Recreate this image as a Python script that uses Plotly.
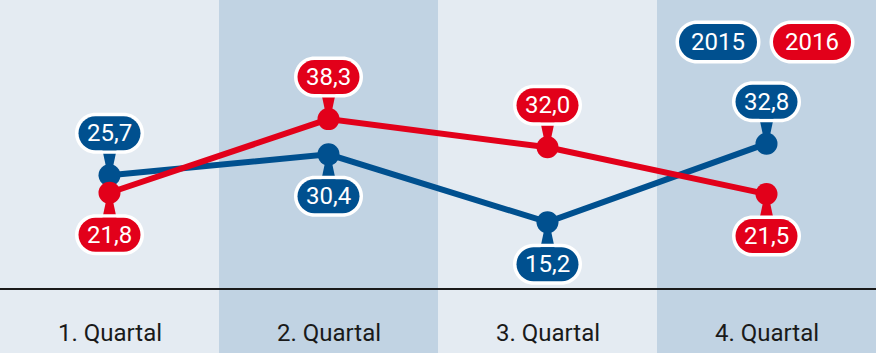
import plotly.graph_objects as go

categories = ["1. Quartal", "2. Quartal", "3. Quartal", "4. Quartal"]
series_names = ["2015", "2016"]
values_2015 = [25.7, 30.4, 15.2, 32.8]
values_2016 = [21.8, 38.3, 32.0, 21.5]
# +1 = label above the point, -1 = label below
label_side_2015 = [1, -1, -1, 1]
label_side_2016 = [-1, 1, 1, -1]

BLUE = "#00508f"
RED = "#e2001a"
LIGHT = "#e4ebf2"
DARK = "#c1d3e3"
INK = "#1a1a1a"
FONT = "Roboto"

W, H = 876, 353
BASE_PX = 290
Y_MAX = 65


def pill_path(cx, cy, w, h):
    r = h / 2
    k = 0.5523 * r
    x0, x1 = cx - w / 2, cx + w / 2
    y0, y1 = cy - h / 2, cy + h / 2
    return (f"M {x0 + r},{y0} L {x1 - r},{y0} "
            f"C {x1 - r + k},{y0} {x1},{cy - k} {x1},{cy} "
            f"C {x1},{cy + k} {x1 - r + k},{y1} {x1 - r},{y1} "
            f"L {x0 + r},{y1} "
            f"C {x0 + r - k},{y1} {x0},{cy + k} {x0},{cy} "
            f"C {x0},{cy - k} {x0 + r - k},{y0} {x0 + r},{y0} Z")


def fmt(v):
    return f"{v:.1f}".replace(".", ",")


fig = go.Figure()

shapes = []
annotations = []

# background bands
for i, _ in enumerate(categories):
    shapes.append(dict(type="rect", xref="x", yref="paper", x0=i - 0.5, x1=i + 0.5,
                       y0=0, y1=1, fillcolor=LIGHT if i % 2 == 0 else DARK,
                       line_width=0, layer="below"))

# baseline
shapes.append(dict(type="line", xref="paper", yref="y", x0=0, x1=1, y0=0, y1=0,
                   line=dict(color=INK, width=4), layer="below"))

OFF = 42
PW, PH = 62, 34
BORDER = 3.5

for vals, sides, color in [(values_2015, label_side_2015, BLUE),
                           (values_2016, label_side_2016, RED)]:
    fig.add_trace(go.Scatter(x=list(range(len(categories))), y=vals, mode="lines+markers",
                             line=dict(color=color, width=6),
                             marker=dict(color=color, size=22), hoverinfo="skip",
                             showlegend=False))
    for i, (v, s) in enumerate(zip(vals, sides)):
        cy = s * OFF
        e0 = s * 6
        e1 = s * (OFF - PH / 2)
        shapes.append(dict(type="path", xref="x", yref="y", xsizemode="pixel", ysizemode="pixel",
                           xanchor=i, yanchor=v,
                           path=f"M -3,{e0} L 3,{e0} L 7,{e1} L -7,{e1} Z",
                           fillcolor=color, line_width=0, layer="below"))
        shapes.append(dict(type="path", xref="x", yref="y", xsizemode="pixel", ysizemode="pixel",
                           xanchor=i, yanchor=v,
                           path=pill_path(0, cy, PW + 2 * BORDER, PH + 2 * BORDER),
                           fillcolor="white", line_width=0, layer="above"))
        shapes.append(dict(type="path", xref="x", yref="y", xsizemode="pixel", ysizemode="pixel",
                           xanchor=i, yanchor=v,
                           path=f"M -7,{e1} L 7,{e1} L 7,{e1 + s * 5} L -7,{e1 + s * 5} Z",
                           fillcolor=color, line_width=0, layer="above"))
        shapes.append(dict(type="path", xref="x", yref="y", xsizemode="pixel", ysizemode="pixel",
                           xanchor=i, yanchor=v,
                           path=pill_path(0, cy, PW, PH),
                           fillcolor=color, line_width=0, layer="above"))
        annotations.append(dict(x=i, y=v, xref="x", yref="y", yshift=cy, text=fmt(v),
                                xanchor="center", yanchor="middle",
                                showarrow=False, font=dict(family=FONT, size=24, color="white")))

# legend pills
LW, LH = 78, 36
legend_x = [718 / W, 812 / W]
legend_y = (H - 42) / H
for name, color, lx in zip(series_names, [BLUE, RED], legend_x):
    shapes.append(dict(type="path", xref="paper", yref="paper", xsizemode="pixel", ysizemode="pixel",
                       xanchor=lx, yanchor=legend_y,
                       path=pill_path(0, 0, LW + 2 * BORDER, LH + 2 * BORDER),
                       fillcolor="white", line_width=0, layer="above"))
    shapes.append(dict(type="path", xref="paper", yref="paper", xsizemode="pixel", ysizemode="pixel",
                       xanchor=lx, yanchor=legend_y,
                       path=pill_path(0, 0, LW, LH),
                       fillcolor=color, line_width=0, layer="above"))
    annotations.append(dict(x=lx, y=legend_y, xref="paper", yref="paper", text=name,
                            xanchor="center", yanchor="middle",
                            showarrow=False, font=dict(family=FONT, size=24, color="white")))

# category labels
for i, c in enumerate(categories):
    annotations.append(dict(x=i, y=(H - 333) / H, xref="x", yref="paper", text=c,
                            xanchor="center", yanchor="middle",
                            showarrow=False, font=dict(family=FONT, size=24, color=INK)))

fig.update_layout(
    width=W, height=H, margin=dict(l=0, r=0, t=0, b=0),
    paper_bgcolor=LIGHT, plot_bgcolor="rgba(0,0,0,0)",
    xaxis=dict(range=[-0.5, len(categories) - 0.5], visible=False, fixedrange=True),
    yaxis=dict(range=[0, Y_MAX], domain=[(H - BASE_PX) / H, 1], visible=False, fixedrange=True),
    shapes=shapes, annotations=annotations, showlegend=False,
)

fig.write_html("out.html")
